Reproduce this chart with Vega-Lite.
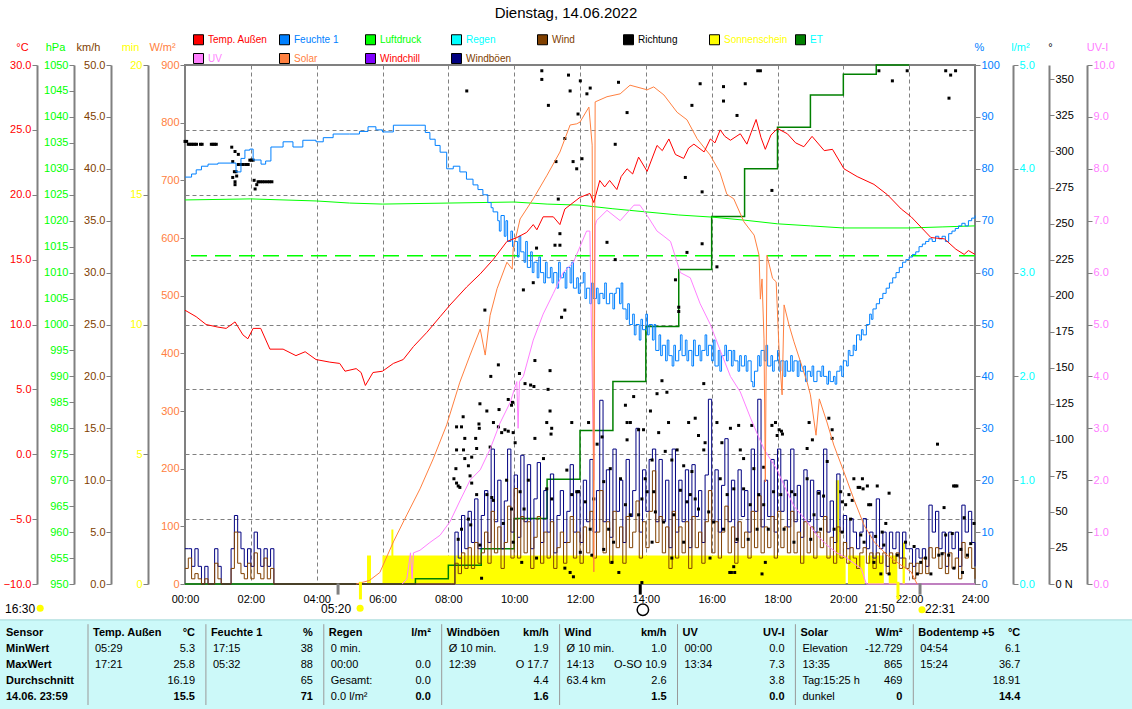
{
"$schema": "https://vega.github.io/schema/vega-lite/v6.json",
"autosize": {"type": "none"},
"width": 790, "height": 519,
"padding": {"left": 185, "top": 65, "right": 157, "bottom": 125},
"background": "#ffffff",
"title": {"text": "Dienstag, 14.06.2022", "fontSize": 15, "fontWeight": "normal", "font": "Liberation Sans", "color": "#000000", "anchor": "middle", "frame": "group", "dx": -14, "offset": 13},
"config": {
 "view": {"stroke": "#808080", "strokeWidth": 2},
 "axis": {"labelFont": "Liberation Sans", "labelFontSize": 11, "titleFont": "Liberation Sans", "titleFontSize": 11, "titleFontWeight": "normal", "domainColor": "#808080", "domainWidth": 2, "tickColor": "#808080", "tickSize": 5, "labelPadding": 1, "titleAngle": 0, "titleAlign": "center", "titleBaseline": "middle", "gridColor": "#808080", "gridDash": [4, 3], "gridWidth": 1, "labelFlush": false, "labelOverlap": false, "labelBound": false, "grid": false},
 "text": {"font": "Liberation Sans", "fontSize": 11}
},
"datasets": {
 "one": [{"k": 1}],
 "leg": [{"n":"Temp. Außen"},{"n":"Feuchte 1"},{"n":"Luftdruck"},{"n":"Regen"},{"n":"Wind"},{"n":"Richtung"},{"n":"Sonnenschein"},{"n":"ET"},{"n":"UV"},{"n":"Solar"},{"n":"Windchill"},{"n":"Windböen"}],
 "temp": [{"h":0,"v":11.1},{"h":0.34,"v":10.6},{"h":0.64,"v":10.0},{"h":1.0,"v":9.8},{"h":1.25,"v":9.7},{"h":1.52,"v":10.2},{"h":1.76,"v":9.2},{"h":1.91,"v":8.9},{"h":2.07,"v":9.7},{"h":2.3,"v":9.7},{"h":2.58,"v":8.1},{"h":2.98,"v":8.1},{"h":3.37,"v":7.6},{"h":3.65,"v":7.9},{"h":3.98,"v":7.3},{"h":4.4,"v":7.1},{"h":4.7,"v":7.0},{"h":4.86,"v":6.4},{"h":5.2,"v":6.6},{"h":5.35,"v":6.3},{"h":5.48,"v":5.3},{"h":5.71,"v":6.3},{"h":6.0,"v":6.4},{"h":6.33,"v":7.0},{"h":6.63,"v":7.3},{"h":6.94,"v":8.3},{"h":7.35,"v":9.4},{"h":7.75,"v":10.6},{"h":8.05,"v":11.5},{"h":8.56,"v":12.9},{"h":8.97,"v":13.9},{"h":9.36,"v":15.0},{"h":9.78,"v":16.4},{"h":10.08,"v":16.7},{"h":10.38,"v":17.1},{"h":10.58,"v":17.7},{"h":10.69,"v":17.3},{"h":10.88,"v":18.3},{"h":11.19,"v":18.3},{"h":11.39,"v":17.7},{"h":11.54,"v":18.9},{"h":12.0,"v":19.8},{"h":12.3,"v":20.1},{"h":12.42,"v":19.4},{"h":12.6,"v":21.1},{"h":12.75,"v":20.6},{"h":12.9,"v":21.1},{"h":13.12,"v":20.4},{"h":13.25,"v":21.4},{"h":13.43,"v":22.0},{"h":13.6,"v":21.6},{"h":13.78,"v":22.9},{"h":14.04,"v":21.8},{"h":14.34,"v":23.8},{"h":14.5,"v":23.4},{"h":14.7,"v":24.3},{"h":14.9,"v":23.1},{"h":15.15,"v":22.8},{"h":15.3,"v":23.6},{"h":15.46,"v":23.9},{"h":15.77,"v":23.3},{"h":15.96,"v":24.3},{"h":16.1,"v":24.0},{"h":16.26,"v":25.0},{"h":16.4,"v":24.5},{"h":16.57,"v":24.2},{"h":16.87,"v":24.7},{"h":17.07,"v":23.9},{"h":17.2,"v":24.8},{"h":17.35,"v":25.8},{"h":17.5,"v":24.4},{"h":17.63,"v":23.5},{"h":17.8,"v":24.6},{"h":18.0,"v":25.1},{"h":18.3,"v":24.7},{"h":18.55,"v":24.0},{"h":18.8,"v":23.7},{"h":19.05,"v":24.5},{"h":19.42,"v":23.4},{"h":19.67,"v":23.5},{"h":20.02,"v":22.0},{"h":20.42,"v":21.4},{"h":20.93,"v":20.8},{"h":21.34,"v":20.0},{"h":21.76,"v":18.9},{"h":22.06,"v":18.3},{"h":22.36,"v":17.5},{"h":22.66,"v":16.7},{"h":23.07,"v":16.6},{"h":23.42,"v":15.8},{"h":23.67,"v":15.4},{"h":23.8,"v":15.7},{"h":24.0,"v":15.4}],
 "hum": [{"h":0,"v":78.4},{"h":0.2,"v":79},{"h":0.34,"v":79.8},{"h":0.5,"v":80.5},{"h":0.7,"v":80.9},{"h":1.0,"v":81.1},{"h":1.45,"v":81.1},{"h":1.55,"v":79.4},{"h":1.7,"v":82},{"h":1.82,"v":83.6},{"h":1.97,"v":83.8},{"h":2.07,"v":81.7},{"h":2.31,"v":80.9},{"h":2.45,"v":81.5},{"h":2.61,"v":84.2},{"h":2.98,"v":85.2},{"h":3.28,"v":84.2},{"h":3.58,"v":85.5},{"h":3.98,"v":85.2},{"h":4.2,"v":86},{"h":4.5,"v":86.7},{"h":5.0,"v":86.7},{"h":5.3,"v":87.2},{"h":5.56,"v":88.1},{"h":5.8,"v":87.5},{"h":6.0,"v":87.1},{"h":6.33,"v":88.4},{"h":7.14,"v":88.4},{"h":7.3,"v":87},{"h":7.44,"v":85.7},{"h":7.6,"v":84.5},{"h":7.75,"v":83.2},{"h":7.95,"v":80},{"h":8.15,"v":80.5},{"h":8.35,"v":79.4},{"h":8.55,"v":78},{"h":8.75,"v":76.9},{"h":8.9,"v":76},{"h":9.05,"v":75},{"h":9.2,"v":73.5},{"h":9.3,"v":72.5},{"h":9.36,"v":71.7},
  {"h":9.5,"v":70},{"h":9.55,"v":68},{"h":9.6,"v":71},{"h":9.7,"v":67},{"h":9.75,"v":70},{"h":9.8,"v":66},{"h":9.9,"v":68},{"h":9.95,"v":65},{"h":10.0,"v":66},{"h":10.1,"v":63},{"h":10.15,"v":67},{"h":10.2,"v":64},{"h":10.3,"v":62},{"h":10.35,"v":66},{"h":10.4,"v":61},{"h":10.5,"v":64},{"h":10.55,"v":60},{"h":10.6,"v":62},{"h":10.7,"v":59},{"h":10.75,"v":63},{"h":10.8,"v":60},{"h":10.9,"v":58},{"h":10.95,"v":62},{"h":11.0,"v":59},{"h":11.1,"v":61},{"h":11.15,"v":58},{"h":11.2,"v":60},{"h":11.3,"v":57},{"h":11.35,"v":62},{"h":11.4,"v":59},{"h":11.5,"v":60},{"h":11.55,"v":57},{"h":11.6,"v":61},{"h":11.7,"v":58},{"h":11.75,"v":62},{"h":11.8,"v":57},{"h":11.9,"v":59},{"h":11.95,"v":56},{"h":12.0,"v":58},{"h":12.1,"v":60},{"h":12.15,"v":55},{"h":12.2,"v":57},{"h":12.3,"v":54},{"h":12.35,"v":58},{"h":12.4,"v":55},{"h":12.5,"v":57},{"h":12.55,"v":54},{"h":12.6,"v":56},{"h":12.7,"v":55},{"h":12.75,"v":58},{"h":12.8,"v":54},{"h":12.9,"v":56},{"h":13.0,"v":53},{"h":13.05,"v":56},{"h":13.1,"v":57},{"h":13.2,"v":54},{"h":13.25,"v":58},{"h":13.3,"v":53},{"h":13.4,"v":51},{"h":13.45,"v":54},{"h":13.5,"v":50},{"h":13.6,"v":52},{"h":13.65,"v":48},{"h":13.7,"v":50},{"h":13.8,"v":47},{"h":13.85,"v":51},{"h":13.9,"v":49},{"h":14.0,"v":52},{"h":14.05,"v":48},{"h":14.1,"v":50},{"h":14.2,"v":47},{"h":14.25,"v":50},{"h":14.3,"v":45},{"h":14.4,"v":48},{"h":14.45,"v":44},{"h":14.5,"v":46},{"h":14.6,"v":43},{"h":14.65,"v":47},{"h":14.7,"v":44},{"h":14.8,"v":42},{"h":14.85,"v":46},{"h":14.9,"v":43},{"h":15.0,"v":45},{"h":15.05,"v":48},{"h":15.1,"v":44},{"h":15.2,"v":47},{"h":15.25,"v":43},{"h":15.3,"v":45},{"h":15.4,"v":42},{"h":15.45,"v":47},{"h":15.5,"v":44},{"h":15.6,"v":46},{"h":15.65,"v":43},{"h":15.7,"v":45},{"h":15.8,"v":48},{"h":15.85,"v":44},{"h":15.9,"v":46},{"h":16.0,"v":43},{"h":16.05,"v":47},{"h":16.1,"v":42},{"h":16.2,"v":45},{"h":16.25,"v":41},{"h":16.3,"v":44},{"h":16.4,"v":46},{"h":16.45,"v":43},{"h":16.5,"v":45},{"h":16.6,"v":42},{"h":16.65,"v":45},{"h":16.7,"v":43},{"h":16.8,"v":41},{"h":16.85,"v":44},{"h":16.9,"v":42},{"h":17.0,"v":44},{"h":17.05,"v":41},{"h":17.1,"v":43},{"h":17.2,"v":39},{"h":17.25,"v":38},{"h":17.3,"v":41},{"h":17.4,"v":44},{"h":17.45,"v":42},{"h":17.5,"v":45},{"h":17.6,"v":43},{"h":17.65,"v":46},{"h":17.7,"v":42},{"h":17.8,"v":44},{"h":17.85,"v":41},{"h":17.9,"v":43},{"h":18.0,"v":45},{"h":18.05,"v":41},{"h":18.1,"v":43},{"h":18.2,"v":40},{"h":18.25,"v":43},{"h":18.3,"v":41},{"h":18.4,"v":44},{"h":18.45,"v":41},{"h":18.5,"v":43},{"h":18.6,"v":40},{"h":18.65,"v":43},{"h":18.7,"v":41},{"h":18.8,"v":42},{"h":18.85,"v":39},{"h":18.9,"v":41},{"h":19.0,"v":40},{"h":19.05,"v":42},{"h":19.1,"v":39},{"h":19.2,"v":41},{"h":19.3,"v":40},{"h":19.35,"v":42},{"h":19.4,"v":40},{"h":19.5,"v":38.5},{"h":19.55,"v":41},{"h":19.6,"v":39},{"h":19.7,"v":40},{"h":19.75,"v":38.5},{"h":19.8,"v":41},{"h":19.9,"v":42},{"h":19.95,"v":40},{"h":20.0,"v":43},{"h":20.1,"v":42},{"h":20.15,"v":45},{"h":20.2,"v":44},{"h":20.3,"v":46},{"h":20.35,"v":45},{"h":20.4,"v":48},{"h":20.5,"v":47},{"h":20.55,"v":49},{"h":20.6,"v":48},{"h":20.7,"v":50},{"h":20.8,"v":52},{"h":20.85,"v":51},{"h":20.9,"v":53},{"h":21.0,"v":54},{"h":21.1,"v":55},{"h":21.2,"v":56},{"h":21.3,"v":57},{"h":21.4,"v":58},{"h":21.5,"v":59},{"h":21.6,"v":60},{"h":21.7,"v":61},{"h":21.8,"v":62},{"h":21.9,"v":62.5},{"h":22.0,"v":63},{"h":22.1,"v":63.5},{"h":22.2,"v":64},{"h":22.3,"v":65},{"h":22.4,"v":65.5},{"h":22.5,"v":66},{"h":22.6,"v":66.5},{"h":22.7,"v":66},{"h":22.8,"v":67},{"h":22.9,"v":66.5},{"h":23.0,"v":67},{"h":23.1,"v":66},{"h":23.2,"v":67.5},{"h":23.3,"v":68},{"h":23.4,"v":68.5},{"h":23.5,"v":69},{"h":23.6,"v":69.5},{"h":23.7,"v":69},{"h":23.8,"v":70},{"h":23.9,"v":70.5},{"h":24.0,"v":71}],
 "pres": [{"h":0,"v":1024.0},{"h":2,"v":1024.2},{"h":4,"v":1023.8},{"h":5,"v":1023.4},{"h":6,"v":1023.2},{"h":8,"v":1023.4},{"h":10,"v":1023.6},{"h":11,"v":1023.2},{"h":12,"v":1023.0},{"h":13,"v":1022.3},{"h":14,"v":1021.7},{"h":15,"v":1021.1},{"h":16,"v":1020.7},{"h":17,"v":1020.1},{"h":18,"v":1019.4},{"h":19,"v":1019.0},{"h":20,"v":1018.6},{"h":22,"v":1018.6},{"h":23,"v":1018.8},{"h":24,"v":1019.0}],
 "solar": [{"h":5.2,"v":0},{"h":5.6,"v":6},{"h":5.92,"v":20},{"h":6.33,"v":73},{"h":6.74,"v":120},{"h":7.14,"v":165},{"h":7.54,"v":217},{"h":7.95,"v":276},{"h":8.35,"v":350},{"h":8.66,"v":397},{"h":8.97,"v":442},{"h":9.12,"v":397},{"h":9.27,"v":466},{"h":9.48,"v":512},{"h":9.78,"v":558},{"h":9.94,"v":546},{"h":9.97,"v":581},{"h":10.18,"v":633},{"h":10.58,"v":668},{"h":11.0,"v":709},{"h":11.39,"v":749},{"h":11.7,"v":796},{"h":11.9,"v":798},{"h":12.0,"v":801},{"h":12.27,"v":827},{"h":12.37,"v":761},{"h":12.42,"v":21},{"h":12.46,"v":836},{"h":12.82,"v":845},{"h":13.22,"v":850},{"h":13.52,"v":865},{"h":14.04,"v":857},{"h":14.24,"v":862},{"h":14.55,"v":848},{"h":14.95,"v":818},{"h":15.25,"v":805},{"h":15.56,"v":772},{"h":15.95,"v":744},{"h":16.25,"v":714},{"h":16.46,"v":676},{"h":16.67,"v":668},{"h":16.98,"v":628},{"h":17.29,"v":605},{"h":17.44,"v":570},{"h":17.48,"v":494},{"h":17.53,"v":529},{"h":17.59,"v":425},{"h":17.63,"v":177},{"h":17.68,"v":570},{"h":17.85,"v":530},{"h":17.96,"v":524},{"h":18.05,"v":402},{"h":18.14,"v":328},{"h":18.2,"v":484},{"h":18.35,"v":449},{"h":18.5,"v":420},{"h":18.9,"v":350},{"h":19.0,"v":328},{"h":19.17,"v":258},{"h":19.27,"v":321},{"h":19.5,"v":281},{"h":19.71,"v":241},{"h":20.02,"v":194},{"h":20.32,"v":147},{"h":20.63,"v":102},{"h":20.94,"v":73},{"h":21.33,"v":50},{"h":21.75,"v":33},{"h":22.06,"v":21},{"h":22.24,"v":0}],
 "uv": [{"h":6.6,"v":0},{"h":6.74,"v":0.1},{"h":6.85,"v":0.6},{"h":6.9,"v":0.1},{"h":6.94,"v":0.6},{"h":7.14,"v":0.65},{"h":7.44,"v":0.8},{"h":7.75,"v":0.94},{"h":8.05,"v":1.2},{"h":8.35,"v":1.6},{"h":8.66,"v":2.0},{"h":8.97,"v":2.2},{"h":9.27,"v":2.6},{"h":9.57,"v":3.1},{"h":9.88,"v":3.5},{"h":10.08,"v":3.9},{"h":10.12,"v":3.0},{"h":10.16,"v":3.9},{"h":10.28,"v":4.0},{"h":10.58,"v":4.7},{"h":10.88,"v":5.2},{"h":11.19,"v":5.6},{"h":11.49,"v":6.0},{"h":11.8,"v":6.2},{"h":12.0,"v":6.5},{"h":12.2,"v":6.8},{"h":12.3,"v":6.8},{"h":12.42,"v":2.0},{"h":12.46,"v":6.9},{"h":12.5,"v":7.0},{"h":12.82,"v":7.2},{"h":13.22,"v":7.0},{"h":13.64,"v":7.3},{"h":13.82,"v":7.3},{"h":14.04,"v":7.1},{"h":14.34,"v":6.8},{"h":14.55,"v":6.7},{"h":14.75,"v":6.6},{"h":15.05,"v":6.0},{"h":15.35,"v":5.9},{"h":15.65,"v":5.4},{"h":15.96,"v":5.0},{"h":16.26,"v":4.5},{"h":16.57,"v":4.0},{"h":16.87,"v":3.7},{"h":17.18,"v":3.2},{"h":17.38,"v":2.9},{"h":17.59,"v":2.6},{"h":17.79,"v":2.4},{"h":17.99,"v":2.2},{"h":18.2,"v":1.9},{"h":18.5,"v":1.5},{"h":18.9,"v":1.2},{"h":19.2,"v":0.94},{"h":19.5,"v":0.75},{"h":19.8,"v":0.6},{"h":20.1,"v":0.5},{"h":20.54,"v":0.3},{"h":20.7,"v":0},{"h":24,"v":0}],
 "sun": [{"h":0,"v":0},{"h":5.53,"v":1.1},{"h":5.65,"v":0},{"h":6.0,"v":1.1},{"h":6.27,"v":2.1},{"h":6.33,"v":1.1},{"h":19.77,"v":4.0},{"h":19.87,"v":1.1},{"h":20.07,"v":0},{"h":20.14,"v":1.1},{"h":20.65,"v":0},{"h":20.75,"v":1.1},{"h":21.23,"v":0},{"h":21.38,"v":1.1},{"h":21.64,"v":0},{"h":21.8,"v":1.6},{"h":21.87,"v":0},{"h":24,"v":0}],
 "et": [{"h":0,"v":0},{"h":7,"v":0.05},{"h":8,"v":0.18},{"h":9,"v":0.34},{"h":10,"v":0.63},{"h":11,"v":1.01},{"h":12,"v":1.48},{"h":13,"v":1.95},{"h":14,"v":2.48},{"h":15,"v":3.03},{"h":16,"v":3.54},{"h":17,"v":4.0},{"h":18,"v":4.4},{"h":19,"v":4.71},{"h":20,"v":4.91},{"h":21,"v":5.0},{"h":22,"v":5.0}],
 "wind": [{"h":0.0,"w":1.5,"g":3.4},{"h":0.1,"w":2.5,"g":3.4},{"h":0.2,"w":0.5,"g":1.7},{"h":0.3,"w":1.0,"g":3.4},{"h":0.4,"w":0.5,"g":1.7},{"h":0.5,"w":0,"g":0},{"h":0.6,"w":0.5,"g":1.7},{"h":0.7,"w":0,"g":0},{"h":0.9,"w":2.0,"g":3.4},{"h":1.0,"w":0.5,"g":1.7},{"h":1.1,"w":0,"g":0},{"h":1.4,"w":1.5,"g":3.4},{"h":1.5,"w":5.0,"g":6.6},{"h":1.6,"w":2.0,"g":5.0},{"h":1.7,"w":1.0,"g":3.4},{"h":1.8,"w":0.5,"g":1.7},{"h":1.9,"w":2.0,"g":3.4},{"h":2.0,"w":0.5,"g":1.7},{"h":2.1,"w":3.0,"g":5.0},{"h":2.2,"w":1.0,"g":3.4},{"h":2.3,"w":0.5,"g":1.7},{"h":2.4,"w":2.5,"g":3.4},{"h":2.5,"w":0.5,"g":1.7},{"h":2.6,"w":1.5,"g":3.4},{"h":2.7,"w":0,"g":0},{"h":8.1,"w":0,"g":0},
  {"h":8.2,"w":2.0,"g":5.0},{"h":8.3,"w":1.0,"g":2.5},{"h":8.4,"w":3.0,"g":6.6},{"h":8.5,"w":1.5,"g":3.4},{"h":8.6,"w":3.5,"g":7.0},{"h":8.7,"w":1.5,"g":4.0},{"h":8.8,"w":4.0,"g":8.2},{"h":8.9,"w":2.0,"g":3.4},{"h":9.0,"w":3.0,"g":6.6},{"h":9.1,"w":5.0,"g":9.0},{"h":9.2,"w":2.0,"g":4.0},{"h":9.3,"w":7.0,"g":13.0},{"h":9.4,"w":3.0,"g":6.0},{"h":9.5,"w":5.5,"g":10.0},{"h":9.6,"w":1.5,"g":3.4},{"h":9.7,"w":4.0,"g":8.0},{"h":9.8,"w":7.5,"g":13.0},{"h":9.9,"w":2.5,"g":5.0},{"h":10.0,"w":9.2,"g":10.5},{"h":10.1,"w":2.5,"g":4.5},{"h":10.2,"w":6.5,"g":12.4},{"h":10.3,"w":3.0,"g":6.0},{"h":10.4,"w":6.0,"g":11.5},{"h":10.5,"w":1.5,"g":3.4},{"h":10.6,"w":4.5,"g":8.2},{"h":10.7,"w":6.5,"g":11.7},{"h":10.8,"w":2.0,"g":4.0},{"h":10.9,"w":5.0,"g":9.0},{"h":11.0,"w":2.5,"g":5.0},{"h":11.1,"w":6.0,"g":10.6},{"h":11.2,"w":1.5,"g":3.0},{"h":11.3,"w":3.5,"g":6.6},{"h":11.4,"w":5.0,"g":9.0},{"h":11.5,"w":2.0,"g":4.0},{"h":11.6,"w":4.0,"g":7.0},{"h":11.7,"w":6.5,"g":11.5},{"h":11.8,"w":2.5,"g":5.0},{"h":11.9,"w":5.0,"g":9.0},{"h":12.0,"w":2.0,"g":4.0},{"h":12.1,"w":5.5,"g":10.0},{"h":12.2,"w":3.0,"g":6.0},{"h":12.3,"w":7.0,"g":12.0},{"h":12.4,"w":2.5,"g":5.0},{"h":12.5,"w":5.0,"g":9.0},{"h":12.6,"w":9.0,"g":17.7},{"h":12.7,"w":3.0,"g":6.0},{"h":12.8,"w":6.0,"g":11.0},{"h":12.9,"w":2.0,"g":4.5},{"h":13.0,"w":7.0,"g":13.0},{"h":13.1,"w":3.5,"g":7.0},{"h":13.2,"w":5.5,"g":10.0},{"h":13.3,"w":2.0,"g":4.0},{"h":13.4,"w":6.5,"g":12.0},{"h":13.5,"w":3.5,"g":6.5},{"h":13.6,"w":5.0,"g":9.0},{"h":13.7,"w":8.0,"g":15.0},{"h":13.8,"w":2.5,"g":5.0},{"h":13.9,"w":6.0,"g":11.0},{"h":14.0,"w":3.5,"g":7.0},{"h":14.1,"w":7.0,"g":12.0},{"h":14.2,"w":10.9,"g":13.0},{"h":14.3,"w":4.0,"g":6.0},{"h":14.4,"w":6.5,"g":12.0},{"h":14.5,"w":3.0,"g":6.0},{"h":14.6,"w":5.5,"g":10.0},{"h":14.7,"w":1.5,"g":3.5},{"h":14.8,"w":7.0,"g":13.0},{"h":14.9,"w":2.5,"g":5.0},{"h":15.0,"w":5.5,"g":10.0},{"h":15.1,"w":3.0,"g":6.0},{"h":15.2,"w":6.0,"g":11.0},{"h":15.3,"w":1.5,"g":3.5},{"h":15.4,"w":6.5,"g":11.5},{"h":15.5,"w":3.5,"g":6.5},{"h":15.6,"w":5.0,"g":9.0},{"h":15.7,"w":2.0,"g":4.0},{"h":15.8,"w":6.0,"g":10.5},{"h":15.9,"w":9.0,"g":17.8},{"h":16.0,"w":3.0,"g":6.0},{"h":16.1,"w":6.0,"g":11.0},{"h":16.2,"w":2.5,"g":5.0},{"h":16.3,"w":5.0,"g":9.5},{"h":16.4,"w":7.5,"g":14.0},{"h":16.5,"w":3.0,"g":6.0},{"h":16.6,"w":5.5,"g":10.0},{"h":16.7,"w":2.0,"g":4.0},{"h":16.8,"w":6.0,"g":11.0},{"h":16.9,"w":3.5,"g":6.5},{"h":17.0,"w":5.0,"g":9.0},{"h":17.1,"w":2.5,"g":5.0},{"h":17.2,"w":7.0,"g":13.0},{"h":17.3,"w":3.5,"g":7.0},{"h":17.4,"w":8.5,"g":17.8},{"h":17.5,"w":3.0,"g":5.5},{"h":17.6,"w":5.5,"g":10.0},{"h":17.7,"w":3.5,"g":6.5},{"h":17.8,"w":6.5,"g":12.0},{"h":17.9,"w":2.5,"g":5.0},{"h":18.0,"w":7.0,"g":13.0},{"h":18.1,"w":3.5,"g":7.0},{"h":18.2,"w":5.5,"g":10.0},{"h":18.3,"w":3.0,"g":5.5},{"h":18.4,"w":7.0,"g":13.0},{"h":18.5,"w":3.0,"g":6.0},{"h":18.6,"w":5.0,"g":9.5},{"h":18.7,"w":2.0,"g":4.5},{"h":18.8,"w":6.0,"g":11.0},{"h":18.9,"w":3.0,"g":6.0},{"h":19.0,"w":5.5,"g":10.0},{"h":19.1,"w":2.5,"g":5.0},{"h":19.2,"w":5.0,"g":9.0},{"h":19.3,"w":3.5,"g":6.5},{"h":19.4,"w":6.5,"g":13.0},{"h":19.5,"w":2.5,"g":5.0},{"h":19.6,"w":4.5,"g":8.0},{"h":19.7,"w":2.0,"g":4.0},{"h":19.8,"w":5.5,"g":10.6},{"h":19.9,"w":2.5,"g":5.0},{"h":20.0,"w":4.0,"g":6.6},{"h":20.1,"w":2.0,"g":3.4},{"h":20.2,"w":3.5,"g":6.3},{"h":20.3,"w":2.5,"g":5.0},{"h":20.4,"w":1.5,"g":3.4},{"h":20.5,"w":3.0,"g":5.0},{"h":20.6,"w":3.5,"g":6.3},{"h":20.7,"w":2.0,"g":3.4},{"h":20.8,"w":3.0,"g":5.0},{"h":20.9,"w":1.5,"g":2.5},{"h":21.0,"w":3.0,"g":8.2},{"h":21.1,"w":2.0,"g":3.4},{"h":21.2,"w":3.0,"g":5.0},{"h":21.3,"w":1.0,"g":1.7},{"h":21.4,"w":3.0,"g":5.0},{"h":21.5,"w":2.0,"g":3.4},{"h":21.6,"w":3.0,"g":5.0},{"h":21.7,"w":1.5,"g":2.5},{"h":21.8,"w":2.5,"g":5.0},{"h":21.9,"w":1.5,"g":3.4},{"h":22.0,"w":2.0,"g":3.4},{"h":22.1,"w":0.5,"g":1.7},{"h":22.2,"w":2.0,"g":3.4},{"h":22.3,"w":1.0,"g":2.5},{"h":22.4,"w":2.5,"g":3.4},{"h":22.5,"w":1.0,"g":1.7},{"h":22.6,"w":3.5,"g":7.6},{"h":22.7,"w":2.5,"g":5.0},{"h":22.8,"w":3.5,"g":7.0},{"h":22.9,"w":1.5,"g":3.4},{"h":23.0,"w":3.0,"g":5.0},{"h":23.1,"w":1.0,"g":1.7},{"h":23.2,"w":3.0,"g":5.0},{"h":23.3,"w":1.5,"g":3.4},{"h":23.4,"w":2.5,"g":5.0},{"h":23.5,"w":0.5,"g":1.7},{"h":23.6,"w":4.0,"g":7.6},{"h":23.7,"w":2.5,"g":5.0},{"h":23.8,"w":3.5,"g":7.0},{"h":23.9,"w":1.5,"g":4.0},{"h":24.0,"w":0.5,"g":1.7}],
 "dir": [{"h":0.0,"v":307},{"h":0.05,"v":307},{"h":0.1,"v":305},{"h":0.15,"v":305},{"h":0.2,"v":305},{"h":0.25,"v":305},{"h":0.3,"v":305},{"h":0.35,"v":305},{"h":0.47,"v":305},{"h":0.52,"v":305},{"h":0.8,"v":305},{"h":0.85,"v":305},{"h":0.9,"v":305},{"h":0.95,"v":305},{"h":1.42,"v":303},{"h":1.52,"v":300},{"h":1.62,"v":298},{"h":1.45,"v":293},{"h":1.5,"v":286},{"h":1.55,"v":286},{"h":1.45,"v":282},{"h":1.57,"v":283},{"h":1.52,"v":279},{"h":1.52,"v":277},{"h":1.62,"v":291},{"h":1.7,"v":291},{"h":1.77,"v":291},{"h":1.85,"v":291},{"h":1.92,"v":291},{"h":1.97,"v":294},{"h":2.02,"v":294},{"h":2.07,"v":294},{"h":2.1,"v":280},{"h":2.13,"v":274},{"h":2.18,"v":277},{"h":2.22,"v":279},{"h":2.28,"v":279},{"h":2.35,"v":279},{"h":2.42,"v":279},{"h":2.5,"v":279},{"h":2.57,"v":279},{"h":2.64,"v":279},
  {"h":8.56,"v":342},{"h":10.84,"v":356},{"h":10.84,"v":350},{"h":11.04,"v":332},{"h":11.65,"v":353},{"h":11.7,"v":342},{"h":11.94,"v":326},{"h":11.54,"v":309},{"h":11.27,"v":293},{"h":11.79,"v":293},{"h":11.9,"v":288},{"h":11.34,"v":267},{"h":11.39,"v":243},{"h":11.39,"v":235},{"h":10.68,"v":233},{"h":11.24,"v":235},{"h":10.58,"v":209},{"h":10.28,"v":204},{"h":11.54,"v":190},{"h":11.44,"v":185},{"h":9.11,"v":190},{"h":9.52,"v":152},{"h":10.63,"v":155},{"h":11.09,"v":148},{"h":9.29,"v":144},{"h":10.16,"v":146},{"h":10.33,"v":139},{"h":10.5,"v":138},{"h":10.6,"v":137},{"h":11.03,"v":135},{"h":8.96,"v":125},{"h":9.17,"v":120},{"h":9.54,"v":121},{"h":9.82,"v":128},{"h":9.92,"v":124},{"h":9.95,"v":126},{"h":11.09,"v":120},{"h":8.45,"v":116},{"h":8.25,"v":109},{"h":8.4,"v":109},{"h":8.93,"v":111},{"h":8.94,"v":108},{"h":9.37,"v":112},{"h":9.52,"v":109},{"h":9.62,"v":105},{"h":9.72,"v":107},{"h":9.82,"v":106},{"h":9.97,"v":105},{"h":10.63,"v":101},{"h":11.14,"v":108},{"h":11.12,"v":104},{"h":10.99,"v":112},{"h":11.75,"v":112},{"h":8.5,"v":101},{"h":8.83,"v":101},{"h":10.03,"v":98},{"h":8.25,"v":93},{"h":8.46,"v":93},{"h":8.86,"v":94},{"h":9.27,"v":95},{"h":8.5,"v":87},{"h":8.71,"v":88},{"h":10.89,"v":87},{"h":8.61,"v":82},{"h":8.23,"v":80},{"h":8.17,"v":73},{"h":8.25,"v":70},{"h":8.66,"v":75},{"h":8.71,"v":70},{"h":8.3,"v":68},{"h":8.35,"v":67},{"h":8.86,"v":62},{"h":9.17,"v":62},{"h":9.32,"v":60},{"h":9.37,"v":58},{"h":9.77,"v":72},{"h":10.43,"v":72},{"h":10.18,"v":64},{"h":9.92,"v":52},{"h":10.3,"v":52},{"h":10.99,"v":66},{"h":11.14,"v":59},{"h":11.6,"v":79},{"h":11.75,"v":62},{"h":11.9,"v":64},{"h":8.61,"v":45},{"h":8.68,"v":41},{"h":8.3,"v":31},{"h":8.4,"v":38},{"h":8.96,"v":27},{"h":9.67,"v":42},{"h":9.97,"v":29},{"h":10.23,"v":15},{"h":10.68,"v":18},{"h":11.54,"v":11},{"h":11.7,"v":8},{"h":11.8,"v":5},{"h":9.01,"v":4},
  {"h":12.01,"v":349},{"h":12.31,"v":344},{"h":13.17,"v":348},{"h":15.65,"v":347},{"h":16.36,"v":345},{"h":16.36,"v":335},{"h":17.02,"v":347},{"h":17.4,"v":356},{"h":17.48,"v":356},{"h":12.21,"v":340},{"h":13.43,"v":327},{"h":15.4,"v":332},{"h":16.77,"v":325},{"h":13.07,"v":305},{"h":12.06,"v":295},{"h":15.2,"v":282},{"h":15.71,"v":272},{"h":17.83,"v":273},{"h":12.82,"v":237},{"h":15.71,"v":236},{"h":15.25,"v":230},{"h":13.07,"v":225},{"h":16.16,"v":220},{"h":14.9,"v":211},{"h":15.0,"v":192},{"h":15.0,"v":189},{"h":14.49,"v":141},{"h":15.76,"v":139},{"h":13.63,"v":130},{"h":14.34,"v":132},{"h":14.64,"v":133},{"h":14.14,"v":120},{"h":13.38,"v":124},{"h":13.43,"v":112},{"h":13.53,"v":112},{"h":12.26,"v":112},{"h":14.69,"v":112},{"h":15.3,"v":112},{"h":15.5,"v":115},{"h":16.16,"v":112},{"h":16.57,"v":108},{"h":16.82,"v":110},{"h":17.22,"v":110},{"h":17.83,"v":110},{"h":13.78,"v":107},{"h":13.93,"v":107},{"h":14.39,"v":105},{"h":12.67,"v":102},{"h":13.43,"v":100},{"h":15.6,"v":103},{"h":15.8,"v":98},{"h":16.31,"v":98},{"h":14.59,"v":92},{"h":15.76,"v":93},{"h":12.52,"v":97},{"h":14.19,"v":86},{"h":14.79,"v":86},{"h":14.95,"v":93},{"h":15.15,"v":82},{"h":15.4,"v":78},{"h":16.87,"v":93},{"h":16.97,"v":87},{"h":17.28,"v":80},{"h":17.58,"v":81},{"h":12.72,"v":71},{"h":12.92,"v":80},{"h":13.23,"v":73},{"h":14.04,"v":64},{"h":14.24,"v":64},{"h":13.98,"v":73},{"h":15.05,"v":65},{"h":15.25,"v":57},{"h":15.35,"v":62},{"h":15.5,"v":59},{"h":15.6,"v":52},{"h":15.91,"v":50},{"h":16.26,"v":73},{"h":16.47,"v":62},{"h":16.67,"v":66},{"h":16.97,"v":66},{"h":17.17,"v":55},{"h":17.43,"v":62},{"h":17.58,"v":55},{"h":17.88,"v":64},{"h":11.96,"v":64},{"h":12.16,"v":57},{"h":12.42,"v":59},{"h":13.38,"v":55},{"h":13.53,"v":48},{"h":13.78,"v":48},{"h":13.88,"v":59},{"h":14.29,"v":50},{"h":14.54,"v":43},{"h":14.85,"v":48},{"h":16.06,"v":43},{"h":16.36,"v":38},{"h":16.77,"v":31},{"h":17.11,"v":31},{"h":17.38,"v":38},{"h":17.72,"v":38},{"h":12.31,"v":38},{"h":12.87,"v":38},{"h":13.02,"v":29},{"h":12.72,"v":24},{"h":13.18,"v":8},{"h":12.97,"v":15},{"h":12.36,"v":20},{"h":14.19,"v":29},{"h":14.79,"v":18},{"h":15.15,"v":29},{"h":15.95,"v":18},{"h":16.55,"v":8},{"h":16.6,"v":8},{"h":16.7,"v":8},{"h":16.67,"v":12},{"h":17.53,"v":7},{"h":17.63,"v":15},{"h":12.01,"v":22},{"h":13.88,"v":1},
  {"h":21.08,"v":356},{"h":21.49,"v":349},{"h":21.94,"v":356},{"h":23.11,"v":356},{"h":23.26,"v":353},{"h":23.41,"v":356},{"h":23.21,"v":337},{"h":17.94,"v":112},{"h":17.99,"v":103},{"h":18.05,"v":107},{"h":18.12,"v":106},{"h":18.15,"v":104},{"h":18.96,"v":112},{"h":18.9,"v":94},{"h":19.06,"v":100},{"h":19.56,"v":115},{"h":19.66,"v":107},{"h":19.66,"v":101},{"h":19.51,"v":85},{"h":22.86,"v":97},{"h":20.32,"v":73},{"h":20.58,"v":73},{"h":20.45,"v":67},{"h":20.5,"v":67},{"h":20.6,"v":66},{"h":20.73,"v":68},{"h":21.03,"v":68},{"h":21.39,"v":63},{"h":20.77,"v":55},{"h":20.83,"v":55},{"h":20.27,"v":58},{"h":23.35,"v":68},{"h":23.4,"v":68},{"h":23.45,"v":68},{"h":23.06,"v":53},{"h":23.67,"v":46},{"h":23.97,"v":42},{"h":19.92,"v":64},{"h":20.17,"v":62},{"h":20.07,"v":55},{"h":19.97,"v":57},{"h":19.25,"v":63},{"h":19.4,"v":61},{"h":18.9,"v":73},{"h":18.43,"v":64},{"h":18.53,"v":62},{"h":18.1,"v":62},{"h":19.11,"v":48},{"h":19.31,"v":38},{"h":19.01,"v":31},{"h":18.5,"v":29},{"h":18.2,"v":38},{"h":19.72,"v":38},{"h":20.22,"v":45},{"h":19.97,"v":36},{"h":21.18,"v":36},{"h":21.29,"v":42},{"h":21.23,"v":27},{"h":20.98,"v":33},{"h":20.63,"v":29},{"h":20.53,"v":34},{"h":20.93,"v":15},{"h":21.14,"v":7},{"h":21.39,"v":7},{"h":21.64,"v":20},{"h":21.89,"v":29},{"h":22.35,"v":15},{"h":22.5,"v":18},{"h":22.9,"v":20},{"h":23.0,"v":21},{"h":23.2,"v":20},{"h":23.31,"v":35},{"h":23.57,"v":24},{"h":23.77,"v":20},{"h":23.87,"v":28},{"h":22.15,"v":26},{"h":23.11,"v":34},{"h":23.36,"v":11},{"h":23.62,"v":8},{"h":22.66,"v":7},{"h":22.25,"v":7}],
 "tab": [{"r":0,"b":0,"s":"label","t":"Sensor"},{"r":1,"b":0,"s":"label","t":"MinWert"},{"r":2,"b":0,"s":"label","t":"MaxWert"},{"r":3,"b":0,"s":"label","t":"Durchschnitt"},{"r":4,"b":0,"s":"label","t":"14.06. 23:59"},
  {"r":0,"b":0,"s":"L","t":"Temp. Außen"},{"r":0,"b":0,"s":"R","t":"°C"},{"r":1,"b":0,"s":"L","t":"05:29"},{"r":1,"b":0,"s":"R","t":"5.3"},{"r":2,"b":0,"s":"L","t":"17:21"},{"r":2,"b":0,"s":"R","t":"25.8"},{"r":3,"b":0,"s":"R","t":"16.19"},{"r":4,"b":0,"s":"R","t":"15.5"},
  {"r":0,"b":1,"s":"L","t":"Feuchte 1"},{"r":0,"b":1,"s":"R","t":"%"},{"r":1,"b":1,"s":"L","t":"17:15"},{"r":1,"b":1,"s":"R","t":"38"},{"r":2,"b":1,"s":"L","t":"05:32"},{"r":2,"b":1,"s":"R","t":"88"},{"r":3,"b":1,"s":"R","t":"65"},{"r":4,"b":1,"s":"R","t":"71"},
  {"r":0,"b":2,"s":"L","t":"Regen"},{"r":0,"b":2,"s":"R","t":"l/m²"},{"r":1,"b":2,"s":"L","t":"0 min."},{"r":2,"b":2,"s":"L","t":"  00:00"},{"r":2,"b":2,"s":"R","t":"0.0"},{"r":3,"b":2,"s":"L","t":"Gesamt:"},{"r":3,"b":2,"s":"R","t":"0.0"},{"r":4,"b":2,"s":"L","t":" 0.0 l/m²"},{"r":4,"b":2,"s":"R","t":"0.0"},
  {"r":0,"b":3,"s":"L","t":"Windböen"},{"r":0,"b":3,"s":"R","t":"km/h"},{"r":1,"b":3,"s":"L","t":"Ø 10 min."},{"r":1,"b":3,"s":"R","t":"1.9"},{"r":2,"b":3,"s":"L","t":" 12:39"},{"r":2,"b":3,"s":"R","t":"O 17.7"},{"r":3,"b":3,"s":"R","t":"4.4"},{"r":4,"b":3,"s":"R","t":"1.6"},
  {"r":0,"b":4,"s":"L","t":"Wind"},{"r":0,"b":4,"s":"R","t":"km/h"},{"r":1,"b":4,"s":"L","t":"Ø 10 min."},{"r":1,"b":4,"s":"R","t":"1.0"},{"r":2,"b":4,"s":"L","t":" 14:13"},{"r":2,"b":4,"s":"R","t":"O-SO 10.9"},{"r":3,"b":4,"s":"L","t":" 63.4 km"},{"r":3,"b":4,"s":"R","t":"2.6"},{"r":4,"b":4,"s":"R","t":"1.5"},
  {"r":0,"b":5,"s":"L","t":"UV"},{"r":0,"b":5,"s":"R","t":"UV-I"},{"r":1,"b":5,"s":"L","t":"00:00"},{"r":1,"b":5,"s":"R","t":"0.0"},{"r":2,"b":5,"s":"L","t":"13:34"},{"r":2,"b":5,"s":"R","t":"7.3"},{"r":3,"b":5,"s":"R","t":"3.8"},{"r":4,"b":5,"s":"R","t":"0.0"},
  {"r":0,"b":6,"s":"L","t":"Solar"},{"r":0,"b":6,"s":"R","t":"W/m²"},{"r":1,"b":6,"s":"L","t":"Elevation"},{"r":1,"b":6,"s":"R","t":"-12.729"},{"r":2,"b":6,"s":"L","t":"  13:35"},{"r":2,"b":6,"s":"R","t":"865"},{"r":3,"b":6,"s":"L","t":"Tag:15:25 h"},{"r":3,"b":6,"s":"R","t":"469"},{"r":4,"b":6,"s":"L","t":"dunkel"},{"r":4,"b":6,"s":"R","t":"0"},
  {"r":0,"b":7,"s":"L","t":"Bodentemp +5"},{"r":0,"b":7,"s":"R","t":"°C"},{"r":1,"b":7,"s":"L","t":"04:54"},{"r":1,"b":7,"s":"R","t":"6.1"},{"r":2,"b":7,"s":"L","t":"15:24"},{"r":2,"b":7,"s":"R","t":"36.7"},{"r":3,"b":7,"s":"R","t":"18.91"},{"r":4,"b":7,"s":"R","t":"14.4"}],
 "seps": [{"b":0},{"b":1},{"b":2},{"b":3},{"b":4},{"b":5},{"b":6},{"b":7}],
 "ann": [{"h":-5.01,"r":-1.5,"t":"16:30"},{"h":4.59,"r":-1.5,"t":"05:20"},{"h":21.11,"r":-1.5,"t":"21:50"},{"h":22.94,"r":-1.5,"t":"22:31"}],
 "icons": [{"h":-4.4,"r":-1.55},{"h":5.32,"r":-1.55},{"h":22.39,"r":-1.45}],
 "moon": [{"h":13.91,"r":-1.45}],
 "tgray": [{"h":4.65},{"h":22.33}],
 "tyel": [{"h":5.33},{"h":21.66}],
 "tblk": [{"h":13.83}]
},
"layer": [
 {"data": {"name": "one"}, "mark": {"type": "rect", "color": "#ccf9f9"},
  "encoding": {"x": {"datum": -0.75, "type": "quantitative", "scale": {"domain": [0, 8], "range": [-97, 846.2], "nice": false}, "axis": null},
   "x2": {"datum": 8.87},
   "y": {"datum": -0.82, "type": "quantitative", "scale": {"domain": [0, 4], "range": [568, 632], "nice": false}, "axis": null},
   "y2": {"datum": 4.8}}},
 {"data": {"name": "one"}, "mark": {"type": "rule", "color": "#a0d8d8", "strokeWidth": 1},
  "encoding": {"x": {"datum": -0.75, "type": "quantitative", "scale": {"domain": [0, 8], "range": [-97, 846.2], "nice": false}, "axis": null},
   "x2": {"datum": 8.87},
   "y": {"datum": -0.82, "type": "quantitative", "scale": {"domain": [0, 4], "range": [568, 632], "nice": false}, "axis": null}}},
 {"data": {"name": "leg"}, "mark": {"type": "square", "opacity": 0},
  "encoding": {"color": {"field": "n", "type": "nominal",
   "scale": {"domain": ["Temp. Außen","Feuchte 1","Luftdruck","Regen","Wind","Richtung","Sonnenschein","ET","UV","Solar","Windchill","Windböen"],
             "range": ["#ff0000","#0080ff","#00ff00","#00ffff","#804000","#000000","#ffff00","#008000","#ff80ff","#ff8040","#8000ff","#000080"]},
   "legend": {"orient": "none", "legendX": 8, "legendY": -31, "direction": "horizontal", "columns": 8, "title": null, "symbolType": "square", "symbolSize": 100, "symbolStrokeColor": "#000000", "symbolStrokeWidth": 1, "symbolOpacity": 1, "labelFont": "Liberation Sans", "labelFontSize": 10, "labelOffset": 4, "columnPadding": 5, "rowPadding": 4, "gridAlign": "all",
     "encode": {"symbols": {"update": {"fill": {"scale": "color", "field": "value"}, "opacity": {"value": 1}, "stroke": {"value": "#000000"}, "strokeWidth": {"value": 1}}},
                "labels": {"update": {"fill": {"signal": "datum.value==='Feuchte 1'?'#0080ff':datum.value==='Luftdruck'?'#00ff00':(datum.value==='Regen'||datum.value==='ET')?'#00ffff':(datum.value==='Wind'||datum.value==='Windböen')?'#804000':datum.value==='Richtung'?'#000000':datum.value==='Sonnenschein'?'#ffff00':datum.value==='UV'?'#ff80ff':datum.value==='Solar'?'#ff8040':'#ff0000'"}}}}}}}},
 {"data": {"name": "sun"}, "mark": {"type": "area", "interpolate": "step-after", "color": "#ffff00"},
  "encoding": {"x": {"field": "h", "type": "quantitative", "scale": {"domain": [0, 24], "nice": false}, "axis": null},
   "y": {"field": "v", "type": "quantitative", "scale": {"domain": [0, 20], "nice": false},
    "axis": {"orient": "left", "offset": 37, "values": [0, 5, 10, 15, 20], "format": "d", "labelColor": "#ffff00", "title": "min", "titleColor": "#ffff00", "titleX": -18, "titleY": -18}}}},
 {"data": {"name": "et"}, "mark": {"type": "line", "interpolate": "step-after", "color": "#008000", "strokeWidth": 1.5},
  "encoding": {"x": {"field": "h", "type": "quantitative", "scale": {"domain": [0, 24], "nice": false}, "axis": null},
   "y": {"field": "v", "type": "quantitative", "scale": {"domain": [0, 5], "nice": false},
    "axis": {"orient": "right", "offset": 38, "values": [0, 1, 2, 3, 4, 5], "format": ".1f", "labelColor": "#00ffff", "title": "l/m²", "titleColor": "#00ffff", "titleX": 7, "titleY": -18}}}},
 {"data": {"name": "pres"}, "mark": {"type": "line", "color": "#00ff00", "strokeWidth": 1},
  "encoding": {"x": {"field": "h", "type": "quantitative", "scale": {"domain": [0, 24], "nice": false}, "axis": null},
   "y": {"field": "v", "type": "quantitative", "scale": {"domain": [950, 1050], "nice": false, "zero": false},
    "axis": {"orient": "left", "offset": 111, "values": [950,955,960,965,970,975,980,985,990,995,1000,1005,1010,1015,1020,1025,1030,1035,1040,1045,1050], "format": "d", "labelColor": "#00ff00", "title": "hPa", "titleColor": "#00ff00", "titleX": -19, "titleY": -18}}}},
 {"data": {"name": "one"}, "mark": {"type": "rule", "color": "#00ff00", "strokeWidth": 1.5, "strokeDash": [16, 8]},
  "encoding": {"y": {"datum": 1013.25, "type": "quantitative", "scale": {"domain": [950, 1050], "nice": false, "zero": false}, "axis": null}}},
 {"data": {"name": "wind"}, "mark": {"type": "line", "interpolate": "step-after", "color": "#000080", "strokeWidth": 1},
  "encoding": {"x": {"field": "h", "type": "quantitative", "scale": {"domain": [0, 24], "nice": false}, "axis": null},
   "y": {"field": "g", "type": "quantitative", "scale": {"domain": [0, 50], "nice": false},
    "axis": {"orient": "left", "offset": 74, "values": [0,5,10,15,20,25,30,35,40,45,50], "format": ".1f", "labelColor": "#804000", "title": "km/h", "titleColor": "#804000", "titleX": -23, "titleY": -18}}}},
 {"data": {"name": "wind"}, "mark": {"type": "line", "interpolate": "step-after", "color": "#804000", "strokeWidth": 1},
  "encoding": {"x": {"field": "h", "type": "quantitative", "scale": {"domain": [0, 24], "nice": false}, "axis": null},
   "y": {"field": "w", "type": "quantitative", "scale": {"domain": [0, 50], "nice": false}, "axis": null}}},
 {"data": {"name": "dir"}, "mark": {"type": "square", "color": "#000000", "size": 9, "opacity": 1},
  "encoding": {"x": {"field": "h", "type": "quantitative", "scale": {"domain": [0, 24], "nice": false}, "axis": null},
   "y": {"field": "v", "type": "quantitative", "scale": {"domain": [0, 360], "nice": false},
    "axis": {"orient": "right", "offset": 74, "values": [0,25,50,75,100,125,150,175,200,225,250,275,300,325,350], "labelExpr": "datum.value==0?'0   N':datum.label", "labelColor": "#000000", "title": "°", "titleColor": "#000000", "titleX": 1, "titleY": -18}}}},
 {"data": {"name": "hum"}, "mark": {"type": "line", "interpolate": "step-after", "color": "#0080ff", "strokeWidth": 1},
  "encoding": {"x": {"field": "h", "type": "quantitative", "scale": {"domain": [0, 24], "nice": false}, "axis": null},
   "y": {"field": "v", "type": "quantitative", "scale": {"domain": [0, 100], "nice": false},
    "axis": {"orient": "right", "offset": 0, "domain": false, "values": [0,10,20,30,40,50,60,70,80,90,100], "format": "d", "labelColor": "#0080ff", "title": "%", "titleColor": "#0080ff", "titleX": 4, "titleY": -18}}}},
 {"data": {"name": "uv"}, "mark": {"type": "line", "color": "#ff80ff", "strokeWidth": 1},
  "encoding": {"x": {"field": "h", "type": "quantitative", "scale": {"domain": [0, 24], "nice": false}, "axis": null},
   "y": {"field": "v", "type": "quantitative", "scale": {"domain": [0, 10], "nice": false},
    "axis": {"orient": "right", "offset": 112, "values": [0,1,2,3,4,5,6,7,8,9,10], "format": ".1f", "labelColor": "#ff80ff", "title": "UV-I", "titleColor": "#ff80ff", "titleX": 10, "titleY": -18}}}},
 {"data": {"name": "solar"}, "mark": {"type": "line", "color": "#ff8040", "strokeWidth": 1},
  "encoding": {"x": {"field": "h", "type": "quantitative", "scale": {"domain": [0, 24], "nice": false}, "axis": null},
   "y": {"field": "v", "type": "quantitative", "scale": {"domain": [0, 900], "nice": false},
    "axis": {"orient": "left", "offset": 0, "domain": false, "values": [0,100,200,300,400,500,600,700,800,900], "format": "d", "labelColor": "#ff8040", "title": "W/m²", "titleColor": "#ff8040", "titleX": -23, "titleY": -18}}}},
 {"data": {"name": "temp"}, "mark": {"type": "line", "color": "#ff0000", "strokeWidth": 1},
  "encoding": {"x": {"field": "h", "type": "quantitative", "scale": {"domain": [0, 24], "nice": false},
    "axis": {"values": [0,2,4,6,8,10,12,14,16,18,20,22,24], "labelExpr": "(datum.value<10?'0':'')+datum.value+':00'", "grid": true, "domain": false, "ticks": false, "labelPadding": 9, "title": null, "labelColor": "#000000"}},
   "y": {"field": "v", "type": "quantitative", "scale": {"domain": [-10, 30], "nice": false},
    "axis": {"orient": "left", "offset": 148, "values": [-10,-5,0,5,10,15,20,25,30], "format": ".1f", "labelColor": "#ff0000", "grid": true, "title": "°C", "titleColor": "#ff0000", "titleX": -15, "titleY": -18}}}},
 {"data": {"name": "seps"}, "mark": {"type": "rule", "color": "#999999", "strokeWidth": 1},
  "encoding": {"x": {"field": "b", "type": "quantitative", "scale": {"domain": [0, 8], "range": [-97, 846.2], "nice": false}, "axis": null},
   "y": {"datum": -0.55, "type": "quantitative", "scale": {"domain": [0, 4], "range": [568, 632], "nice": false}, "axis": null},
   "y2": {"datum": 4.5}}},
 {"data": {"name": "tab"}, "transform": [{"filter": "datum.s==='label'"}],
  "mark": {"type": "text", "align": "left", "baseline": "middle", "dx": -82, "fontWeight": "bold", "color": "#000000"},
  "encoding": {"x": {"field": "b", "type": "quantitative", "scale": {"domain": [0, 8], "range": [-97, 846.2], "nice": false}, "axis": null},
   "y": {"field": "r", "type": "quantitative", "scale": {"domain": [0, 4], "range": [568, 632], "nice": false}, "axis": null},
   "text": {"field": "t"}}},
 {"data": {"name": "tab"}, "transform": [{"filter": "datum.s==='L' && datum.r==0"}],
  "mark": {"type": "text", "align": "left", "baseline": "middle", "dx": 5, "fontWeight": "bold", "color": "#000000"},
  "encoding": {"x": {"field": "b", "type": "quantitative", "scale": {"domain": [0, 8], "range": [-97, 846.2], "nice": false}, "axis": null},
   "y": {"field": "r", "type": "quantitative", "scale": {"domain": [0, 4], "range": [568, 632], "nice": false}, "axis": null},
   "text": {"field": "t"}}},
 {"data": {"name": "tab"}, "transform": [{"filter": "datum.s==='R' && (datum.r==0 || datum.r==4)"}],
  "mark": {"type": "text", "align": "right", "baseline": "middle", "dx": 107, "fontWeight": "bold", "color": "#000000"},
  "encoding": {"x": {"field": "b", "type": "quantitative", "scale": {"domain": [0, 8], "range": [-97, 846.2], "nice": false}, "axis": null},
   "y": {"field": "r", "type": "quantitative", "scale": {"domain": [0, 4], "range": [568, 632], "nice": false}, "axis": null},
   "text": {"field": "t"}}},
 {"data": {"name": "tab"}, "transform": [{"filter": "datum.s==='L' && datum.r>0"}],
  "mark": {"type": "text", "align": "left", "baseline": "middle", "dx": 7, "color": "#000000"},
  "encoding": {"x": {"field": "b", "type": "quantitative", "scale": {"domain": [0, 8], "range": [-97, 846.2], "nice": false}, "axis": null},
   "y": {"field": "r", "type": "quantitative", "scale": {"domain": [0, 4], "range": [568, 632], "nice": false}, "axis": null},
   "text": {"field": "t"}}},
 {"data": {"name": "tab"}, "transform": [{"filter": "datum.s==='R' && datum.r>0 && datum.r<4"}],
  "mark": {"type": "text", "align": "right", "baseline": "middle", "dx": 107, "color": "#000000"},
  "encoding": {"x": {"field": "b", "type": "quantitative", "scale": {"domain": [0, 8], "range": [-97, 846.2], "nice": false}, "axis": null},
   "y": {"field": "r", "type": "quantitative", "scale": {"domain": [0, 4], "range": [568, 632], "nice": false}, "axis": null},
   "text": {"field": "t"}}},
 {"data": {"name": "ann"}, "mark": {"type": "text", "align": "center", "baseline": "middle", "color": "#000000", "fontSize": 12},
  "encoding": {"x": {"field": "h", "type": "quantitative", "scale": {"domain": [0, 24], "nice": false}, "axis": null},
   "y": {"field": "r", "type": "quantitative", "scale": {"domain": [0, 4], "range": [568, 632], "nice": false}, "axis": null},
   "text": {"field": "t"}}},
 {"data": {"name": "icons"}, "mark": {"type": "circle", "color": "#ffff00", "size": 50, "opacity": 1},
  "encoding": {"x": {"field": "h", "type": "quantitative", "scale": {"domain": [0, 24], "nice": false}, "axis": null},
   "y": {"field": "r", "type": "quantitative", "scale": {"domain": [0, 4], "range": [568, 632], "nice": false}, "axis": null}}},
 {"data": {"name": "moon"}, "mark": {"type": "point", "shape": "circle", "color": "#000000", "filled": false, "size": 130, "strokeWidth": 1.5, "opacity": 1},
  "encoding": {"x": {"field": "h", "type": "quantitative", "scale": {"domain": [0, 24], "nice": false}, "axis": null},
   "y": {"field": "r", "type": "quantitative", "scale": {"domain": [0, 4], "range": [568, 632], "nice": false}, "axis": null}}},
 {"data": {"name": "tgray"}, "mark": {"type": "rule", "color": "#808080", "strokeWidth": 3},
  "encoding": {"x": {"field": "h", "type": "quantitative", "scale": {"domain": [0, 24], "nice": false}, "axis": null},
   "y": {"datum": -3.1, "type": "quantitative", "scale": {"domain": [0, 4], "range": [568, 632], "nice": false}, "axis": null},
   "y2": {"datum": -2.4}}},
 {"data": {"name": "tyel"}, "mark": {"type": "rule", "color": "#ffff00", "strokeWidth": 3},
  "encoding": {"x": {"field": "h", "type": "quantitative", "scale": {"domain": [0, 24], "nice": false}, "axis": null},
   "y": {"datum": -3.2, "type": "quantitative", "scale": {"domain": [0, 4], "range": [568, 632], "nice": false}, "axis": null},
   "y2": {"datum": -2.1}}},
 {"data": {"name": "tblk"}, "mark": {"type": "rule", "color": "#000000", "strokeWidth": 3},
  "encoding": {"x": {"field": "h", "type": "quantitative", "scale": {"domain": [0, 24], "nice": false}, "axis": null},
   "y": {"datum": -3.05, "type": "quantitative", "scale": {"domain": [0, 4], "range": [568, 632], "nice": false}, "axis": null},
   "y2": {"datum": -2.4}}}
],
"resolve": {"scale": {"x": "independent", "y": "independent"}, "axis": {"x": "independent", "y": "independent"}}
}
